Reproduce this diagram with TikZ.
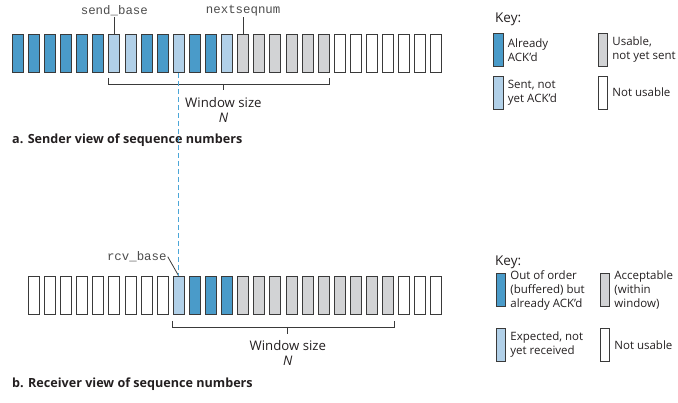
\documentclass[tikz,border=0pt]{standalone}
\usepackage{fontspec}
\setmainfont{Open Sans}
\setmonofont{Liberation Mono}
\usetikzlibrary{positioning}

\definecolor{ackblue}{HTML}{4A9BC9}
\definecolor{sentblue}{HTML}{B1D0E8}
\definecolor{usegray}{HTML}{D2D3D5}
\definecolor{edgegray}{HTML}{3A3A3A}
\definecolor{dashblue}{HTML}{4BA6D8}
\definecolor{inkdark}{HTML}{231F20}

\begin{document}
\begin{tikzpicture}[x=1pt, y=1pt,
      cell/.style={rectangle, draw=edgegray, line width=0.9pt, minimum width=11pt,
          minimum height=38pt, inner sep=0pt},
      cellA/.style={cell, fill=ackblue},
      cellS/.style={cell, fill=sentblue},
      cellU/.style={cell, fill=usegray},
      cellN/.style={cell, fill=white},
      keycell/.style={minimum width=9.5pt, minimum height=33pt},
      mono/.style={font=\ttfamily\fontsize{12.4}{12}\selectfont, text=black!70, inner sep=1pt},
      keytext/.style={font=\fontsize{11.5}{14}\selectfont, align=left, inner sep=0pt, text=inkdark},
      keyhead/.style={font=\fontsize{13.5}{15}\selectfont, anchor=west, inner sep=0pt, text=inkdark},
      winlabel/.style={font=\fontsize{13.2}{15}\selectfont, align=center, inner sep=0pt, text=inkdark},
      caption/.style={font=\bfseries\fontsize{12.6}{14}\selectfont, anchor=west, inner sep=0pt, text=inkdark},
      brace/.style={draw=edgegray, line width=0.8pt},
    ]
    \useasboundingbox (0,0) rectangle (678,-403);

    % --- a. Sender: one row of sequence numbers ---
    \foreach \c [count=\i] in {A,A,A,A,A,A,S,S,A,A,S,A,A,S,U,U,U,U,U,U,N,N,N,N,N,N,N}
      \node (s\i) [cell\c] at ({17.75+(\i-1)*16.1}, -53.5) {};

    \node (sendlbl) [mono, above=17pt of s7.north] {send\_base};
    \node (nextlbl) [mono, above=17pt of s15.north] {nextseqnum};
    \draw [brace] (sendlbl) -- (s7.north);
    \draw [brace] (nextlbl) -- (s15.north);

    % window bracket under the sender row
    \draw [brace] ([yshift=-5pt]s7.south west) -- ([yshift=-11pt]s7.south west)
      -- coordinate[pos=0.52] (swm) ([yshift=-11pt]s20.south east) -- ([yshift=-5pt]s20.south east);
    \coordinate (swt) at ([yshift=-6pt]swm);
    \draw [brace] (swm) -- (swt);
    \node (swin) [winlabel, below=7pt of swt] {Window size\\\textit{N}};

    \node (capa) [caption] at (12, -140) {a. Sender view of sequence numbers};

    % --- b. Receiver: the same numbers, one slot to the right ---
    \foreach \c [count=\i] in {N,N,N,N,N,N,N,N,N,S,A,A,A,U,U,U,U,U,U,U,U,U,U,N,N,N}
      \node (r\i) [cell\c] at ({33.85+(\i-1)*16.1}, -295.5) {};

    \node (rcvlbl) [mono, above left=13pt and 11pt of r10.north] {rcv\_base};
    \draw [brace] (rcvlbl.east) -- (r10.north);

    \draw [brace] ([yshift=-6pt]r10.south west) -- ([yshift=-12pt]r10.south west)
      -- coordinate[pos=0.52] (rwm) ([yshift=-12pt]r23.south east) -- ([yshift=-6pt]r23.south east);
    \coordinate (rwt) at ([yshift=-7pt]rwm);
    \draw [brace] (rwm) -- (rwt);
    \node (rwin) [winlabel, below=6pt of rwt] {Window size\\\textit{N}};

    \node (capb) [caption] at (12, -384) {b. Receiver view of sequence numbers};

    % send_base on the sender side lines up with rcv_base on the receiver side
    \draw [dashblue, line width=0.9pt, dash pattern=on 5pt off 3pt] (s11.south) -- (r10.north);

    % --- Key (sender) ---
    \node (skey) [keyhead] at (495, -19) {Key:};
    \node (ska) [cellA, keycell] at (498.5, -50) {};
    \node (sks) [cellS, keycell] at (498.5, -92.5) {};
    \node (sku) [cellU, keycell] at (603, -50) {};
    \node (skn) [cellN, keycell] at (603, -92.5) {};
    \node [keytext, right=4pt of ska] {Already\\ACK'd};
    \node [keytext, right=4pt of sks] {Sent, not\\yet ACK'd};
    \node [keytext, right=4pt of sku] {Usable,\\not yet sent};
    \node [keytext, right=4pt of skn] {Not usable};

    % --- Key (receiver) ---
    \node (rkey) [keyhead] at (495, -262) {Key:};
    \node (rka) [cellA, keycell] at (501, -290) {};
    \node (rks) [cellS, keycell] at (501, -345) {};
    \node (rku) [cellU, keycell] at (605, -290) {};
    \node (rkn) [cellN, keycell] at (605, -345) {};
    \node [keytext, right=4pt of rka] {Out of order\\(buffered) but\\already ACK'd};
    \node [keytext, right=4pt of rks] {Expected, not\\yet received};
    \node [keytext, right=4pt of rku] {Acceptable\\(within\\window)};
    \node [keytext, right=4pt of rkn] {Not usable};

  \end{tikzpicture}
\end{document}
